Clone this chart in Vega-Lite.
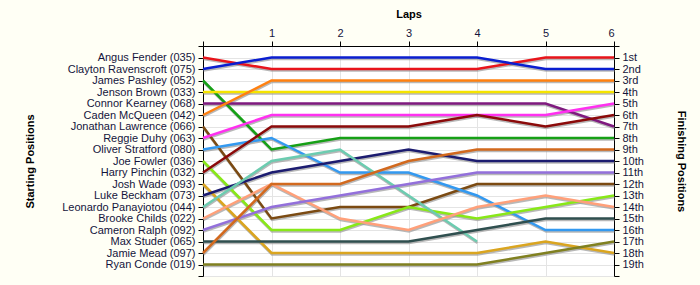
{
  "$schema": "https://vega.github.io/schema/vega-lite/v6.json",
  "width": 411,
  "height": 230,
  "autosize": {"type": "none"},
  "padding": {"left": 203, "top": 46, "right": 86, "bottom": 9},
  "background": "#FFFFF5",
  "config": {
    "view": {"fill": "#FFFFFF", "stroke": null},
    "font": "Liberation Sans",
    "axis": {
      "labelFont": "Liberation Sans",
      "labelFontSize": 11,
      "labelColor": "#14143C",
      "titleFont": "Liberation Sans",
      "titleFontSize": 11,
      "titleFontWeight": "bold",
      "titleColor": "#000000",
      "domainColor": "#000000",
      "tickColor": "#000000",
      "gridColor": "#E4E4E4",
      "gridWidth": 1,
      "tickSize": 5,
      "labelPadding": 3
    }
  },
  "datasets": {
    "laps": [
      {"driver": "Angus Fender (035)", "lap": 0, "pos": 1}, {"driver": "Angus Fender (035)", "lap": 1, "pos": 2}, {"driver": "Angus Fender (035)", "lap": 2, "pos": 2}, {"driver": "Angus Fender (035)", "lap": 3, "pos": 2}, {"driver": "Angus Fender (035)", "lap": 4, "pos": 2}, {"driver": "Angus Fender (035)", "lap": 5, "pos": 1}, {"driver": "Angus Fender (035)", "lap": 6, "pos": 1},
      {"driver": "Clayton Ravenscroft (075)", "lap": 0, "pos": 2}, {"driver": "Clayton Ravenscroft (075)", "lap": 1, "pos": 1}, {"driver": "Clayton Ravenscroft (075)", "lap": 2, "pos": 1}, {"driver": "Clayton Ravenscroft (075)", "lap": 3, "pos": 1}, {"driver": "Clayton Ravenscroft (075)", "lap": 4, "pos": 1}, {"driver": "Clayton Ravenscroft (075)", "lap": 5, "pos": 2}, {"driver": "Clayton Ravenscroft (075)", "lap": 6, "pos": 2},
      {"driver": "James Pashley (052)", "lap": 0, "pos": 3}, {"driver": "James Pashley (052)", "lap": 1, "pos": 9}, {"driver": "James Pashley (052)", "lap": 2, "pos": 8}, {"driver": "James Pashley (052)", "lap": 3, "pos": 8}, {"driver": "James Pashley (052)", "lap": 4, "pos": 8}, {"driver": "James Pashley (052)", "lap": 5, "pos": 8}, {"driver": "James Pashley (052)", "lap": 6, "pos": 8},
      {"driver": "Jenson Brown (033)", "lap": 0, "pos": 4}, {"driver": "Jenson Brown (033)", "lap": 1, "pos": 4}, {"driver": "Jenson Brown (033)", "lap": 2, "pos": 4}, {"driver": "Jenson Brown (033)", "lap": 3, "pos": 4}, {"driver": "Jenson Brown (033)", "lap": 4, "pos": 4}, {"driver": "Jenson Brown (033)", "lap": 5, "pos": 4}, {"driver": "Jenson Brown (033)", "lap": 6, "pos": 4},
      {"driver": "Connor Kearney (068)", "lap": 0, "pos": 5}, {"driver": "Connor Kearney (068)", "lap": 1, "pos": 5}, {"driver": "Connor Kearney (068)", "lap": 2, "pos": 5}, {"driver": "Connor Kearney (068)", "lap": 3, "pos": 5}, {"driver": "Connor Kearney (068)", "lap": 4, "pos": 5}, {"driver": "Connor Kearney (068)", "lap": 5, "pos": 5}, {"driver": "Connor Kearney (068)", "lap": 6, "pos": 7},
      {"driver": "Caden McQueen (042)", "lap": 0, "pos": 6}, {"driver": "Caden McQueen (042)", "lap": 1, "pos": 3}, {"driver": "Caden McQueen (042)", "lap": 2, "pos": 3}, {"driver": "Caden McQueen (042)", "lap": 3, "pos": 3}, {"driver": "Caden McQueen (042)", "lap": 4, "pos": 3}, {"driver": "Caden McQueen (042)", "lap": 5, "pos": 3}, {"driver": "Caden McQueen (042)", "lap": 6, "pos": 3},
      {"driver": "Jonathan Lawrence (066)", "lap": 0, "pos": 7}, {"driver": "Jonathan Lawrence (066)", "lap": 1, "pos": 15}, {"driver": "Jonathan Lawrence (066)", "lap": 2, "pos": 14}, {"driver": "Jonathan Lawrence (066)", "lap": 3, "pos": 14}, {"driver": "Jonathan Lawrence (066)", "lap": 4, "pos": 12}, {"driver": "Jonathan Lawrence (066)", "lap": 5, "pos": 12}, {"driver": "Jonathan Lawrence (066)", "lap": 6, "pos": 12},
      {"driver": "Reggie Duhy (063)", "lap": 0, "pos": 8}, {"driver": "Reggie Duhy (063)", "lap": 1, "pos": 6}, {"driver": "Reggie Duhy (063)", "lap": 2, "pos": 6}, {"driver": "Reggie Duhy (063)", "lap": 3, "pos": 6}, {"driver": "Reggie Duhy (063)", "lap": 4, "pos": 6}, {"driver": "Reggie Duhy (063)", "lap": 5, "pos": 6}, {"driver": "Reggie Duhy (063)", "lap": 6, "pos": 5},
      {"driver": "Oliver Stratford (080)", "lap": 0, "pos": 9}, {"driver": "Oliver Stratford (080)", "lap": 1, "pos": 8}, {"driver": "Oliver Stratford (080)", "lap": 2, "pos": 11}, {"driver": "Oliver Stratford (080)", "lap": 3, "pos": 11}, {"driver": "Oliver Stratford (080)", "lap": 4, "pos": 13}, {"driver": "Oliver Stratford (080)", "lap": 5, "pos": 16}, {"driver": "Oliver Stratford (080)", "lap": 6, "pos": 16},
      {"driver": "Joe Fowler (036)", "lap": 0, "pos": 10}, {"driver": "Joe Fowler (036)", "lap": 1, "pos": 16}, {"driver": "Joe Fowler (036)", "lap": 2, "pos": 16}, {"driver": "Joe Fowler (036)", "lap": 3, "pos": 14}, {"driver": "Joe Fowler (036)", "lap": 4, "pos": 15}, {"driver": "Joe Fowler (036)", "lap": 5, "pos": 14}, {"driver": "Joe Fowler (036)", "lap": 6, "pos": 13},
      {"driver": "Harry Pinchin (032)", "lap": 0, "pos": 11}, {"driver": "Harry Pinchin (032)", "lap": 1, "pos": 7}, {"driver": "Harry Pinchin (032)", "lap": 2, "pos": 7}, {"driver": "Harry Pinchin (032)", "lap": 3, "pos": 7}, {"driver": "Harry Pinchin (032)", "lap": 4, "pos": 6}, {"driver": "Harry Pinchin (032)", "lap": 5, "pos": 7}, {"driver": "Harry Pinchin (032)", "lap": 6, "pos": 6},
      {"driver": "Josh Wade (093)", "lap": 0, "pos": 12}, {"driver": "Josh Wade (093)", "lap": 1, "pos": 18}, {"driver": "Josh Wade (093)", "lap": 2, "pos": 18}, {"driver": "Josh Wade (093)", "lap": 3, "pos": 18}, {"driver": "Josh Wade (093)", "lap": 4, "pos": 18}, {"driver": "Josh Wade (093)", "lap": 5, "pos": 17}, {"driver": "Josh Wade (093)", "lap": 6, "pos": 18},
      {"driver": "Luke Beckham (073)", "lap": 0, "pos": 13}, {"driver": "Luke Beckham (073)", "lap": 1, "pos": 11}, {"driver": "Luke Beckham (073)", "lap": 2, "pos": 10}, {"driver": "Luke Beckham (073)", "lap": 3, "pos": 9}, {"driver": "Luke Beckham (073)", "lap": 4, "pos": 10}, {"driver": "Luke Beckham (073)", "lap": 5, "pos": 10}, {"driver": "Luke Beckham (073)", "lap": 6, "pos": 10},
      {"driver": "Leonardo Panayiotou (044)", "lap": 0, "pos": 14}, {"driver": "Leonardo Panayiotou (044)", "lap": 1, "pos": 10}, {"driver": "Leonardo Panayiotou (044)", "lap": 2, "pos": 9}, {"driver": "Leonardo Panayiotou (044)", "lap": 3, "pos": 13}, {"driver": "Leonardo Panayiotou (044)", "lap": 4, "pos": 17},
      {"driver": "Brooke Childs (022)", "lap": 0, "pos": 15}, {"driver": "Brooke Childs (022)", "lap": 1, "pos": 12}, {"driver": "Brooke Childs (022)", "lap": 2, "pos": 15}, {"driver": "Brooke Childs (022)", "lap": 3, "pos": 16}, {"driver": "Brooke Childs (022)", "lap": 4, "pos": 14}, {"driver": "Brooke Childs (022)", "lap": 5, "pos": 13}, {"driver": "Brooke Childs (022)", "lap": 6, "pos": 14},
      {"driver": "Cameron Ralph (092)", "lap": 0, "pos": 16}, {"driver": "Cameron Ralph (092)", "lap": 1, "pos": 14}, {"driver": "Cameron Ralph (092)", "lap": 2, "pos": 13}, {"driver": "Cameron Ralph (092)", "lap": 3, "pos": 12}, {"driver": "Cameron Ralph (092)", "lap": 4, "pos": 11}, {"driver": "Cameron Ralph (092)", "lap": 5, "pos": 11}, {"driver": "Cameron Ralph (092)", "lap": 6, "pos": 11},
      {"driver": "Max Studer (065)", "lap": 0, "pos": 17}, {"driver": "Max Studer (065)", "lap": 1, "pos": 17}, {"driver": "Max Studer (065)", "lap": 2, "pos": 17}, {"driver": "Max Studer (065)", "lap": 3, "pos": 17}, {"driver": "Max Studer (065)", "lap": 4, "pos": 16}, {"driver": "Max Studer (065)", "lap": 5, "pos": 15}, {"driver": "Max Studer (065)", "lap": 6, "pos": 15},
      {"driver": "Jamie Mead (097)", "lap": 0, "pos": 18}, {"driver": "Jamie Mead (097)", "lap": 1, "pos": 12}, {"driver": "Jamie Mead (097)", "lap": 2, "pos": 12}, {"driver": "Jamie Mead (097)", "lap": 3, "pos": 10}, {"driver": "Jamie Mead (097)", "lap": 4, "pos": 9}, {"driver": "Jamie Mead (097)", "lap": 5, "pos": 9}, {"driver": "Jamie Mead (097)", "lap": 6, "pos": 9},
      {"driver": "Ryan Conde (019)", "lap": 0, "pos": 19}, {"driver": "Ryan Conde (019)", "lap": 1, "pos": 19}, {"driver": "Ryan Conde (019)", "lap": 2, "pos": 19}, {"driver": "Ryan Conde (019)", "lap": 3, "pos": 19}, {"driver": "Ryan Conde (019)", "lap": 4, "pos": 19}, {"driver": "Ryan Conde (019)", "lap": 5, "pos": 18}, {"driver": "Ryan Conde (019)", "lap": 6, "pos": 17}
    ]
  },
  "data": {"name": "laps"},
  "resolve": {"axis": {"y": "independent"}},
  "layer": [
    {
      "mark": {"type": "line", "strokeWidth": 2.5, "color": "#9A9A9A", "opacity": 0.7, "yOffset": 1.5, "xOffset": 0.5},
      "encoding": {
        "detail": {"field": "driver"},
        "x": {
          "field": "lap", "type": "quantitative",
          "scale": {"domain": [0, 6], "nice": false, "zero": false},
          "axis": {
            "orient": "top", "title": "Laps", "values": [0, 1, 2, 3, 4, 5, 6],
            "labelExpr": "datum.value == 0 ? '' : format(datum.value, 'd')",
            "grid": true, "titlePadding": 8, "labelColor": "#14143C"
          }
        },
        "y": {
          "field": "pos", "type": "quantitative",
          "scale": {"domain": [0, 20], "reverse": true, "nice": false, "zero": false},
          "axis": {
            "orient": "left", "title": "Starting Positions",
            "values": [0, 1, 2, 3, 4, 5, 6, 7, 8, 9, 10, 11, 12, 13, 14, 15, 16, 17, 18, 19, 20],
            "labelExpr": "['', 'Angus Fender (035)', 'Clayton Ravenscroft (075)', 'James Pashley (052)', 'Jenson Brown (033)', 'Connor Kearney (068)', 'Caden McQueen (042)', 'Jonathan Lawrence (066)', 'Reggie Duhy (063)', 'Oliver Stratford (080)', 'Joe Fowler (036)', 'Harry Pinchin (032)', 'Josh Wade (093)', 'Luke Beckham (073)', 'Leonardo Panayiotou (044)', 'Brooke Childs (022)', 'Cameron Ralph (092)', 'Max Studer (065)', 'Jamie Mead (097)', 'Ryan Conde (019)', ''][datum.value]",
            "grid": true, "labelOverlap": false, "labelBound": false,
            "titleX": -173, "titleY": 115, "titleAlign": "center", "titleBaseline": "middle", "titleAngle": -90
          }
        }
      }
    },
    {
      "mark": {"type": "line", "strokeWidth": 2.5},
      "encoding": {
        "x": {"field": "lap", "type": "quantitative"},
        "y": {
          "field": "pos", "type": "quantitative",
          "axis": {
            "orient": "right", "title": "Finishing Positions",
            "values": [0, 1, 2, 3, 4, 5, 6, 7, 8, 9, 10, 11, 12, 13, 14, 15, 16, 17, 18, 19, 20],
            "labelExpr": "(datum.value == 0 || datum.value == 20) ? '' : datum.value + (datum.value == 1 ? 'st' : datum.value == 2 ? 'nd' : datum.value == 3 ? 'rd' : 'th')",
            "grid": false, "labelOverlap": false, "labelBound": false,
            "titleX": 66, "titleY": 115, "titleAlign": "center", "titleBaseline": "middle", "titleAngle": 90
          }
        },
        "color": {
          "field": "driver", "type": "nominal", "legend": null,
          "scale": {
            "domain": ["Angus Fender (035)", "Clayton Ravenscroft (075)", "James Pashley (052)", "Jenson Brown (033)", "Connor Kearney (068)", "Caden McQueen (042)", "Jonathan Lawrence (066)", "Reggie Duhy (063)", "Oliver Stratford (080)", "Joe Fowler (036)", "Harry Pinchin (032)", "Josh Wade (093)", "Luke Beckham (073)", "Leonardo Panayiotou (044)", "Brooke Childs (022)", "Cameron Ralph (092)", "Max Studer (065)", "Jamie Mead (097)", "Ryan Conde (019)"],
            "range": ["#E8141B", "#0A1ED0", "#16A016", "#F5E400", "#7F1A7F", "#FF8010", "#7B4A12", "#FF30F0", "#3399F0", "#88E818", "#8B0A0A", "#DAA520", "#1C1C70", "#6CCCB0", "#FFA07A", "#9370DB", "#2F4F4F", "#D2691E", "#808020"]
          }
        }
      }
    }
  ]
}
